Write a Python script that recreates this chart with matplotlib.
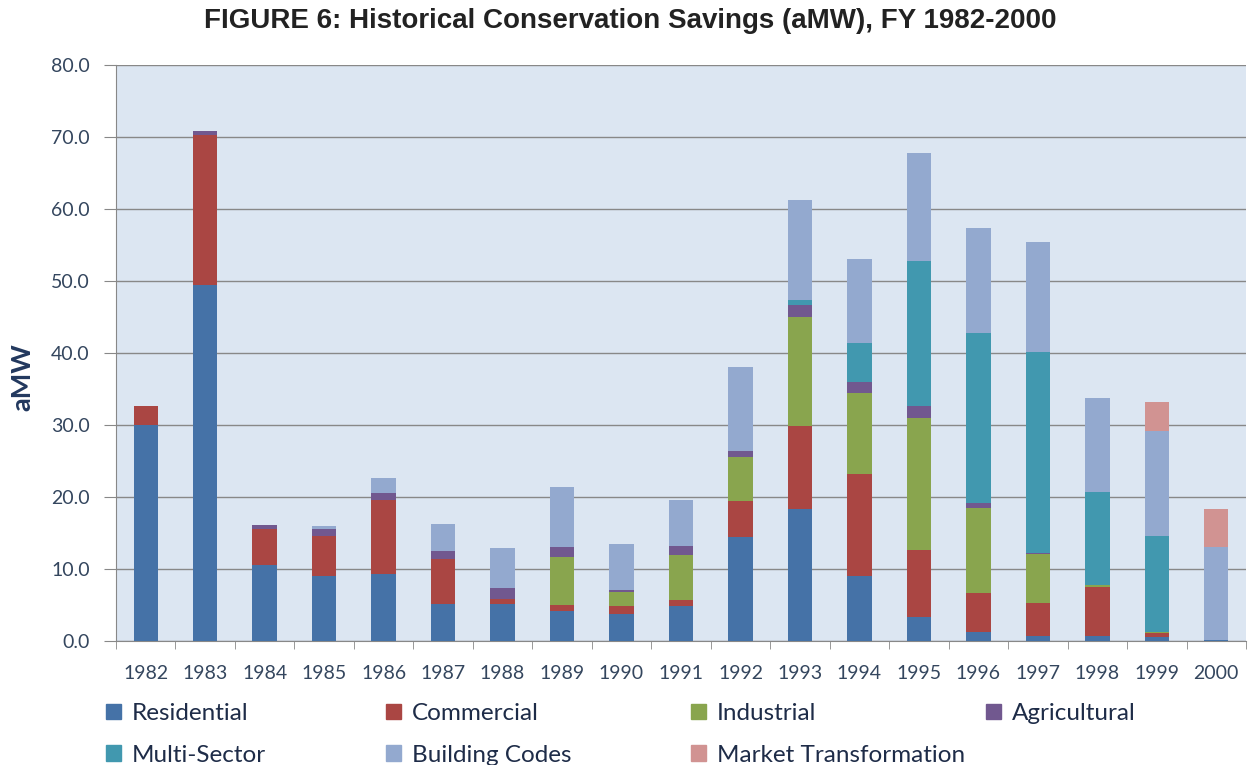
import numpy as np
import matplotlib.pyplot as plt
from matplotlib.patches import Patch

years = ['1982', '1983', '1984', '1985', '1986', '1987', '1988', '1989', '1990', '1991',
         '1992', '1993', '1994', '1995', '1996', '1997', '1998', '1999', '2000']

residential = [30.0, 49.5, 10.6, 9.0, 9.3, 5.1, 5.1, 4.1, 3.8, 4.9,
               14.4, 18.3, 9.0, 3.4, 1.3, 0.7, 0.7, 0.6, 0.2]
commercial = [2.6, 20.8, 5.0, 5.6, 10.3, 6.3, 0.8, 0.9, 1.0, 0.8,
              5.0, 11.5, 14.2, 9.3, 5.4, 4.6, 6.8, 0.5, 0.0]
industrial = [0.0, 0.0, 0.0, 0.0, 0.0, 0.0, 0.0, 6.7, 2.0, 6.3,
              6.1, 15.2, 11.2, 18.3, 11.8, 6.8, 0.3, 0.2, 0.0]
agricultural = [0.0, 0.5, 0.5, 0.9, 0.9, 1.1, 1.5, 1.3, 0.3, 1.2,
                0.9, 1.7, 1.6, 1.7, 0.7, 0.1, 0.0, 0.0, 0.0]
multi_sector = [0.0, 0.0, 0.0, 0.0, 0.0, 0.0, 0.0, 0.0, 0.0, 0.0,
                0.0, 0.7, 5.4, 20.1, 23.6, 28.0, 12.9, 13.3, 0.0]
building_codes = [0.0, 0.0, 0.0, 0.5, 2.1, 3.8, 5.5, 8.4, 6.4, 6.4,
                  11.6, 13.9, 11.7, 15.0, 14.6, 15.2, 13.1, 14.6, 12.9]
market_transf = [0.0, 0.0, 0.0, 0.0, 0.0, 0.0, 0.0, 0.0, 0.0, 0.0,
                 0.0, 0.0, 0.0, 0.0, 0.0, 0.0, 0.0, 4.0, 5.2]

series = [('Residential', residential, '#4572A7'),
          ('Commercial', commercial, '#AA4643'),
          ('Industrial', industrial, '#89A54E'),
          ('Agricultural', agricultural, '#71588F'),
          ('Multi-Sector', multi_sector, '#4198AF'),
          ('Building Codes', building_codes, '#93A9CF'),
          ('Market Transformation', market_transf, '#D19392')]

plt.rcParams['font.family'] = ['Lato', 'DejaVu Sans']
tick_col = '#34465E'
W, H = 1249, 765

fig = plt.figure(figsize=(W / 100, H / 100), dpi=100)
ax = fig.add_axes([116 / W, 1 - 641 / H, 1130 / W, 576 / H])
ax.set_facecolor('#DCE6F2')

x = np.arange(len(years))
bottom = np.zeros(len(years))
for name, vals, col in series:
    v = np.array(vals)
    ax.bar(x, v, 0.41, bottom=bottom, color=col, label=name, zorder=3)
    bottom += v

ax.set_xlim(-0.5, len(years) - 0.5)
ax.set_ylim(0, 80)
ax.set_yticks(np.arange(0, 81, 10))
ax.set_yticklabels(['%.1f' % t for t in np.arange(0, 81, 10)])
ax.set_xticks(x)
ax.set_xticklabels(years)
ax.set_xticks(np.arange(-0.5, len(years), 1), minor=True)
ax.tick_params(axis='x', which='major', length=0, pad=17, labelsize=14, labelcolor=tick_col)
ax.tick_params(axis='x', which='minor', length=6, color='#888888', direction='out')
ax.tick_params(axis='y', length=9, color='#888888', labelsize=14, labelcolor=tick_col, pad=10)
ax.grid(axis='y', color='#888888', linewidth=1.0, zorder=1)
for s in ['top', 'right']:
    ax.spines[s].set_visible(False)
for s in ['left', 'bottom']:
    ax.spines[s].set_color('#888888')

fig.text(22 / W, 1 - 377 / H, 'aMW', rotation=90, ha='center', va='center',
         fontsize=19.5, fontweight='bold', color='#22385E')

fig.text(0.505, 1 - 21 / H, 'FIGURE 6: Historical Conservation Savings (aMW), FY 1982-2000',
         family='Liberation Sans', fontsize=20, fontweight='bold', color='#222222',
         ha='center', va='center')

# legend: four columns, two rows, placed by hand
col_x = [106, 386, 691, 986]
cols = [[0, 4], [1, 5], [2, 6], [3]]
for cx, idx in zip(col_x, cols):
    hs = [Patch(color=series[i][2]) for i in idx]
    ls = [series[i][0] for i in idx]
    leg = fig.legend(hs, ls, loc='upper left', bbox_to_anchor=(cx / W, 1 - 703 / H),
                     frameon=False, fontsize=17.5, handlelength=0.6, handleheight=0.6,
                     handletextpad=0.45, labelspacing=0.85, borderpad=0, borderaxespad=0)
    for t in leg.get_texts():
        t.set_color('#1E2C48')

fig.savefig('out.png', dpi=100)
